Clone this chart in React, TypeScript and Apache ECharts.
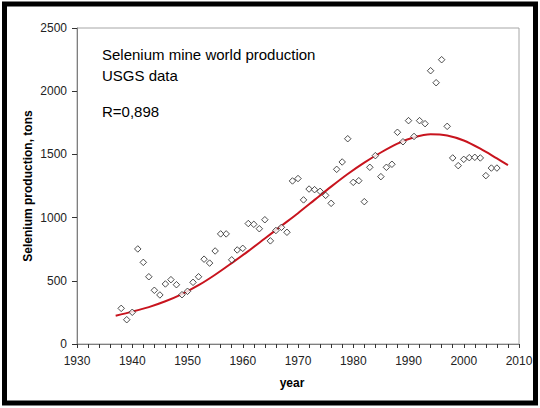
import React, { useEffect, useRef } from "react";
import * as echarts from "echarts";

const years = [
  1938, 1939, 1940, 1941, 1942, 1943, 1944, 1945, 1946, 1947, 1948, 1949,
  1950, 1951, 1952, 1953, 1954, 1955, 1956, 1957, 1958, 1959, 1960, 1961,
  1962, 1963, 1964, 1965, 1966, 1967, 1968, 1969, 1970, 1971, 1972, 1973,
  1974, 1975, 1976, 1977, 1978, 1979, 1980, 1981, 1982, 1983, 1984, 1985,
  1986, 1987, 1988, 1989, 1990, 1991, 1992, 1993, 1994, 1995, 1996, 1997,
  1998, 1999, 2000, 2001, 2002, 2003, 2004, 2005, 2006,
];
const production = [
  282, 192, 251, 752, 646, 532, 425, 388, 475, 509, 469, 390,
  417, 488, 532, 671, 640, 736, 871, 871, 666, 744, 757, 953,
  947, 912, 983, 816, 898, 923, 884, 1290, 1309, 1140, 1226, 1221,
  1208, 1176, 1113, 1382, 1440, 1624, 1279, 1292, 1126, 1398, 1490, 1324,
  1398, 1422, 1675, 1600, 1767, 1642, 1767, 1743, 2162, 2067, 2249, 1722,
  1472, 1411, 1461, 1474, 1477, 1472, 1332, 1392, 1392,
];
const trendYears = [
  1937, 1940, 1943, 1946, 1949, 1952, 1955, 1958, 1961, 1964, 1967, 1970,
  1973, 1976, 1979, 1982, 1985, 1988, 1991, 1994, 1997, 2000, 2003, 2006, 2008,
];
const trendValues = [
  224, 256, 292, 338, 395, 465, 548, 640, 735, 835, 935, 1035,
  1140, 1245, 1345, 1435, 1515, 1585, 1635, 1660, 1650, 1610, 1545, 1468, 1416,
];
const xTicks = { min: 1930, max: 2010, interval: 10 };
const yTicks = { min: 0, max: 2500, interval: 500 };
const titleLines = ["Selenium mine world production", "USGS data"];
const rText = "R=0,898";
const xName = "year";
const yName = "Selenium production, tons";

export default function App() {
  const ref = useRef<HTMLDivElement>(null);
  useEffect(() => {
    if (!ref.current) return;
    const chart = echarts.init(ref.current, null, { renderer: "svg" });
    const font = "Liberation Sans, Arial, sans-serif";
    const axisColor = "#7f7f7f";
    chart.setOption({
      animation: false,
      backgroundColor: "#fff",
      grid: {
        left: 77,
        top: 28,
        right: 21,
        bottom: 64,
        show: true,
        borderColor: "#a6a6a6",
        borderWidth: 1,
        backgroundColor: "transparent",
      },
      xAxis: {
        type: "value",
        min: xTicks.min,
        max: xTicks.max,
        interval: xTicks.interval,
        axisLine: { show: true, lineStyle: { color: axisColor, width: 1 } },
        axisTick: { show: true, inside: false, length: 4, lineStyle: { color: "#333" } },
        minorTick: { show: true, splitNumber: 5, length: 4, lineStyle: { color: "#333" } },
        splitLine: { show: false },
        axisLabel: {
          margin: 11,
          fontFamily: font,
          fontSize: 12,
          color: "#222",
          formatter: (v: number) => String(v),
        },
      },
      yAxis: {
        type: "value",
        min: yTicks.min,
        max: yTicks.max,
        interval: yTicks.interval,
        axisLine: { show: true, lineStyle: { color: axisColor, width: 1 } },
        axisTick: { show: true, inside: false, length: 5, lineStyle: { color: "#333" } },
        splitLine: { show: false },
        axisLabel: {
          margin: 10,
          fontFamily: font,
          fontSize: 12,
          color: "#222",
          formatter: (v: number) => String(v),
        },
      },
      series: [
        {
          type: "line",
          data: trendYears.map((y, i) => [y, trendValues[i]]),
          smooth: 0.3,
          showSymbol: false,
          symbol: "none",
          lineStyle: { color: "#c8141e", width: 2 },
          z: 2,
        },
        {
          type: "scatter",
          data: years.map((y, i) => [y, production[i]]),
          symbol: "diamond",
          symbolSize: 6.5,
          itemStyle: { color: "#fff", borderColor: "#222", borderWidth: 1 },
          z: 3,
        },
      ],
      graphic: [
        {
          type: "rect",
          shape: { x: 4.5, y: 4, width: 531, height: 399 },
          style: { fill: "none", stroke: "#000", lineWidth: 5 },
          silent: true,
        },
        {
          type: "text",
          x: 102,
          y: 54,
          style: { text: titleLines[0], font: `15px ${font}`, fill: "#000", textVerticalAlign: "middle" },
        },
        {
          type: "text",
          x: 102,
          y: 75,
          style: { text: titleLines[1], font: `15px ${font}`, fill: "#000", textVerticalAlign: "middle" },
        },
        {
          type: "text",
          x: 102,
          y: 111,
          style: { text: rText, font: `15px ${font}`, fill: "#000", textVerticalAlign: "middle" },
        },
        {
          type: "text",
          x: 292,
          y: 383,
          style: { text: xName, font: `bold 12px ${font}`, fill: "#000", textAlign: "center", textVerticalAlign: "middle" },
        },
        {
          type: "text",
          x: 28,
          y: 186,
          rotation: Math.PI / 2,
          style: { text: yName, font: `bold 12px ${font}`, fill: "#000", textAlign: "center", textVerticalAlign: "middle" },
        },
      ],
    });
    return () => chart.dispose();
  }, []);
  return <div ref={ref} style={{ position: "fixed", left: 0, top: 0, width: 540, height: 408 }} />;
}
